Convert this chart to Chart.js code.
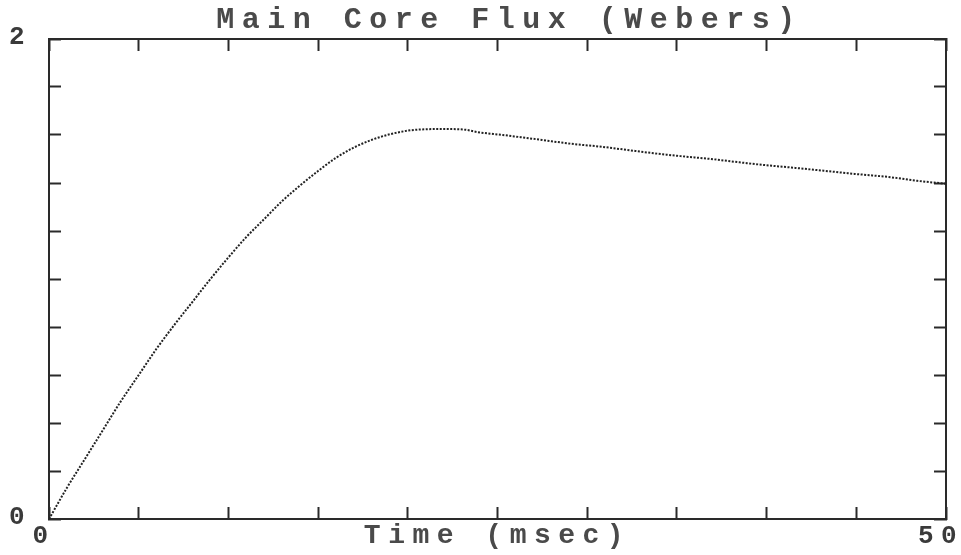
<!DOCTYPE html>
<html>
<head>
<meta charset="utf-8">
<script src="https://cdn.jsdelivr.net/npm/chart.js@4"></script>
<style>
html,body{margin:0;padding:0;background:#fff;}
#wrap{width:961px;height:555px;}
</style>
</head>
<body>
<div id="wrap"><canvas id="c" width="961" height="555"></canvas></div>
<script>
// Data
const timeMs = [0, 1, 2, 3, 4, 5, 6, 7, 8, 9, 10, 11, 12, 13, 14, 15, 16, 17, 18, 19, 20, 21, 22, 23.2, 23.9, 25.3, 26.8, 28.0, 29.3, 30.8, 32.2, 33.6, 35.2, 36.9, 38.5, 40.0, 41.6, 43.2, 44.9, 46.8, 48.4, 50.0];
const fluxWb = [0, 0.13, 0.25, 0.37, 0.49, 0.60, 0.71, 0.81, 0.905, 1.0, 1.09, 1.175, 1.25, 1.325, 1.39, 1.45, 1.505, 1.548, 1.58, 1.603, 1.618, 1.624, 1.625, 1.622, 1.612, 1.600, 1.586, 1.574, 1.562, 1.551, 1.538, 1.525, 1.512, 1.500, 1.486, 1.474, 1.463, 1.451, 1.438, 1.425, 1.409, 1.397];
const xTickLabels = {0: '0', 50: '50'};
const yTickLabels = {0: '0', 2: '2'};
const chartTitle = 'Main Core Flux (Webers)';
const xAxisTitle = 'Time (msec)';

const SPACING = '7.5px';
const FONT = "'Liberation Mono', 'DejaVu Sans Mono', monospace";
const INK = '#2a2a2a';

const spacingPlugin = {
  id: 'spacing',
  beforeUpdate(chart) { chart.ctx.letterSpacing = SPACING; },
  beforeLayout(chart) { chart.ctx.letterSpacing = SPACING; },
  afterLayout(chart) {
    const tb = chart.titleBlock;
    if (tb) { tb.left += 29; tb.right += 29; }
  },
  beforeDraw(chart) { chart.ctx.letterSpacing = SPACING; }
};

const gridOpts = {drawOnChartArea: false, tickLength: -12, tickColor: INK, tickWidth: 2};
const borderOpts = {color: INK, width: 2, dash: [2, 1]};

function label(map) {
  return function(v) {
    for (const k in map) { if (Math.abs(v - Number(k)) < 1e-6) return map[k]; }
    return '';
  };
}
function noPad(s) { s.paddingLeft = 0; s.paddingRight = 0; s.paddingTop = 0; s.paddingBottom = 0; }

new Chart(document.getElementById('c'), {
  type: 'line',
  data: {
    datasets: [{
      data: timeMs.map((t, i) => ({x: t, y: fluxWb[i]})),
      borderColor: '#222',
      borderWidth: 2,
      borderDash: [2, 1.5],
      pointRadius: 0,
      tension: 0.3,
      cubicInterpolationMode: 'monotone',
      fill: false
    }]
  },
  plugins: [spacingPlugin],
  options: {
    responsive: false,
    animation: false,
    layout: {padding: 0},
    plugins: {
      legend: {display: false},
      tooltip: {enabled: false},
      title: {
        display: true,
        text: chartTitle,
        color: '#4a4a4a',
        font: {family: FONT, size: 30, weight: 'bold', lineHeight: 1.2},
        padding: {top: 2, bottom: 0}
      }
    },
    scales: {
      x: {
        type: 'linear', position: 'bottom', min: 0, max: 50,
        grid: gridOpts, border: borderOpts,
        ticks: {stepSize: 5, autoSkip: false, maxRotation: 0, padding: 14, labelOffset: -5, color: '#3a3a3a',
                font: {family: FONT, size: 26, weight: 'bold'}, callback: label(xTickLabels)},
        title: {display: true, text: xAxisTitle, color: '#4a4a4a', padding: {top: 0, bottom: 5},
                font: {family: FONT, size: 28, weight: 'bold', lineHeight: 1.0}},
        afterFit(s) { s.height = 36; noPad(s); }
      },
      x2: {
        type: 'linear', position: 'top', min: 0, max: 50,
        grid: gridOpts, border: borderOpts,
        ticks: {display: false, stepSize: 5},
        afterFit(s) { s.height = 1; noPad(s); }
      },
      y: {
        type: 'linear', position: 'left', min: 0, max: 2,
        grid: gridOpts, border: borderOpts,
        ticks: {stepSize: 0.2, autoSkip: false, padding: 29, labelOffset: -2, color: '#3a3a3a',
                font: {family: FONT, size: 26, weight: 'bold'}, callback: label(yTickLabels)},
        afterFit(s) { s.width = 49; noPad(s); }
      },
      y2: {
        type: 'linear', position: 'right', min: 0, max: 2,
        grid: gridOpts, border: borderOpts,
        ticks: {display: false, stepSize: 0.2},
        afterFit(s) { s.width = 15; noPad(s); }
      }
    }
  }
});
</script>
</body>
</html>
